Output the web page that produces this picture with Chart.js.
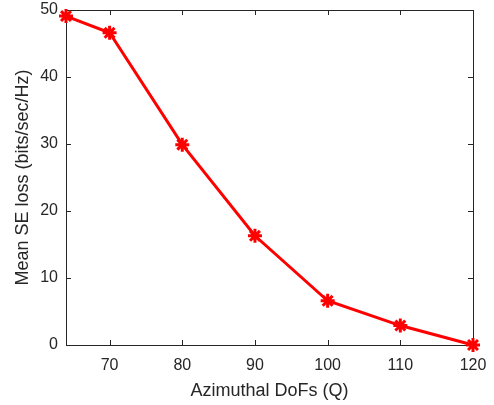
<!DOCTYPE html>
<html><head><meta charset="utf-8">
<script src="https://cdn.jsdelivr.net/npm/chart.js@4"></script>
<style>html,body{margin:0;padding:0;background:#fff}#wrap{width:494px;height:405px}</style>
</head><body><div id="wrap"><canvas id="c" width="494" height="405"></canvas></div>
<script>
const dofs = [64, 70, 80, 90, 100, 110, 120];
const seLoss = [49.1, 46.6, 29.9, 16.3, 6.6, 2.9, 0.0];
const xTicks = [70, 80, 90, 100, 110, 120];
const yTicks = [0, 10, 20, 30, 40, 50];

const AX = '#262626';
const boxPlugin = {
  id: 'box',
  beforeDatasetsDraw(chart) {
    const {ctx, chartArea: a, scales: {x, y}} = chart;
    ctx.save();
    ctx.strokeStyle = AX;
    ctx.lineWidth = 1;
    ctx.strokeRect(Math.round(a.left) + 0.5, Math.round(a.top) + 0.5, Math.round(a.right - a.left), Math.round(a.bottom - a.top));
    const L = 5;
    ctx.beginPath();
    xTicks.forEach(v => {
      const px = Math.round(x.getPixelForValue(v)) + 0.5;
      ctx.moveTo(px, a.bottom); ctx.lineTo(px, a.bottom - L);
      ctx.moveTo(px, a.top); ctx.lineTo(px, a.top + L);
    });
    yTicks.forEach(v => {
      const py = Math.round(y.getPixelForValue(v)) + 0.5;
      ctx.moveTo(a.left, py); ctx.lineTo(a.left + L, py);
      ctx.moveTo(a.right, py); ctx.lineTo(a.right - L, py);
    });
    ctx.stroke();
    ctx.restore();
  }
};

new Chart(document.getElementById('c'), {
  type: 'line',
  data: {
    datasets: [{
      data: dofs.map((d, i) => ({x: d, y: seLoss[i]})),
      borderColor: '#ff0000',
      backgroundColor: '#ff0000',
      borderWidth: 3,
      pointStyle: 'star',
      pointRadius: 7,
      pointBorderWidth: 3,
      pointBorderColor: '#ff0000',
      tension: 0,
      clip: false
    }]
  },
  options: {
    responsive: false,
    animation: false,
    layout: {padding: {left: 0, right: 21, top: 10, bottom: 0}},
    plugins: {legend: {display: false}, tooltip: {enabled: false}},
    scales: {
      x: {
        type: 'linear', min: 64, max: 120,
        afterBuildTicks(s) { s.ticks = xTicks.map(v => ({value: v})); },
        afterFit(s) { s.height = 60; s.paddingLeft = 0; s.paddingRight = 0; },
        grid: {display: false, drawTicks: false},
        border: {display: false},
        ticks: {color: AX, padding: 11, font: {family: 'Liberation Sans', size: 16}, maxRotation: 0},
        title: {display: true, text: 'Azimuthal DoFs (Q)', color: AX, font: {family: 'Liberation Sans', size: 18}, padding: {top: 0, bottom: 3}}
      },
      y: {
        min: 0, max: 50,
        afterBuildTicks(s) { s.ticks = yTicks.map(v => ({value: v})); },
        afterFit(s) { s.width = 66; s.paddingTop = 0; s.paddingBottom = 0; },
        grid: {display: false, drawTicks: false},
        border: {display: false},
        ticks: {color: AX, padding: 8, font: {family: 'Liberation Sans', size: 16}},
        title: {display: true, text: 'Mean SE loss (bits/sec/Hz)', color: AX, font: {family: 'Liberation Sans', size: 18}, padding: {top: 12, bottom: 0}}
      }
    }
  },
  plugins: [boxPlugin]
});
</script>
</body></html>
